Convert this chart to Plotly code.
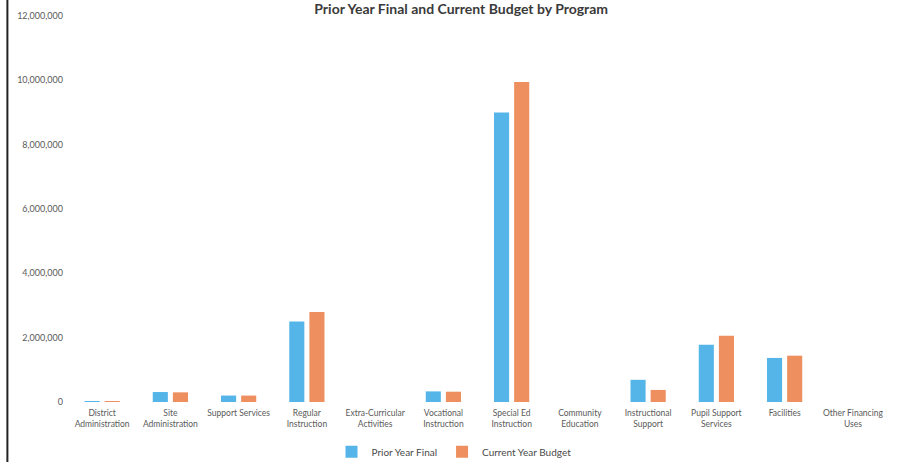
import plotly.graph_objects as go

# Programs along the x-axis
programs = [
    "District<br>Administration", "Site<br>Administration", "Support Services",
    "Regular<br>Instruction", "Extra-Curricular<br>Activities", "Vocational<br>Instruction",
    "Special Ed<br>Instruction", "Community<br>Education", "Instructional<br>Support",
    "Pupil Support<br>Services", "Facilities", "Other Financing<br>Uses",
]

# Dollar amounts per program
prior_year_final = [30000, 310000, 200000, 2500000, 0, 330000, 9000000, 0, 690000, 1780000, 1370000, 0]
current_year_budget = [30000, 300000, 200000, 2800000, 0, 320000, 9950000, 0, 375000, 2060000, 1440000, 0]

y_ticks = [0, 2000000, 4000000, 6000000, 8000000, 10000000, 12000000]

BLUE = "#55b5e8"
ORANGE = "#ee8f5f"
TEXT = "#5a5a5a"
FONT = "Lato, 'Open Sans', sans-serif"

fig = go.Figure()
fig.add_trace(go.Bar(name="Prior Year Final", x=programs, y=prior_year_final,
                     marker=dict(color=BLUE, line_width=0)))
fig.add_trace(go.Bar(name="Current Year Budget", x=programs, y=current_year_budget,
                     marker=dict(color=ORANGE, line_width=0)))

fig.update_layout(
    width=899, height=462,
    margin=dict(l=68, r=12, t=16, b=60, autoexpand=False),
    paper_bgcolor="white", plot_bgcolor="white",
    barmode="group", bargap=0.41, bargroupgap=0.25,
    font=dict(family=FONT, color=TEXT, size=9),
    title=dict(text="Prior Year Final and Current Budget by Program",
               x=0.513, xref="container", xanchor="center",
               y=0.99, yref="container", yanchor="top", pad=dict(t=0),
               font=dict(family=FONT, size=14, color="#3a3a3a", weight="bold")),
    legend=dict(orientation="h", x=0.505, xref="container", xanchor="center",
                y=0.022, yref="container", yanchor="middle",
                font=dict(size=10, color="#4a4a4a"), itemwidth=30,
                tracegroupgap=0),
    showlegend=True,
)

fig.update_xaxes(showgrid=False, showline=False, ticks="", tickfont=dict(size=8.5, color=TEXT),
                 tickangle=0, ticklabelstandoff=4, automargin=False)
fig.update_yaxes(range=[0, 12000000], tickvals=y_ticks, tickformat=",",
                 showgrid=False, zeroline=False, showline=False, ticks="",
                 ticklabelstandoff=4, automargin=False, tickfont=dict(size=9, color=TEXT))

# Dark page edge running down the left side
fig.add_shape(type="line", xref="paper", yref="paper",
              x0=-0.074, x1=-0.074, y0=-0.2, y1=1.1,
              line=dict(color="#222222", width=2))

fig.write_html("out.html")
